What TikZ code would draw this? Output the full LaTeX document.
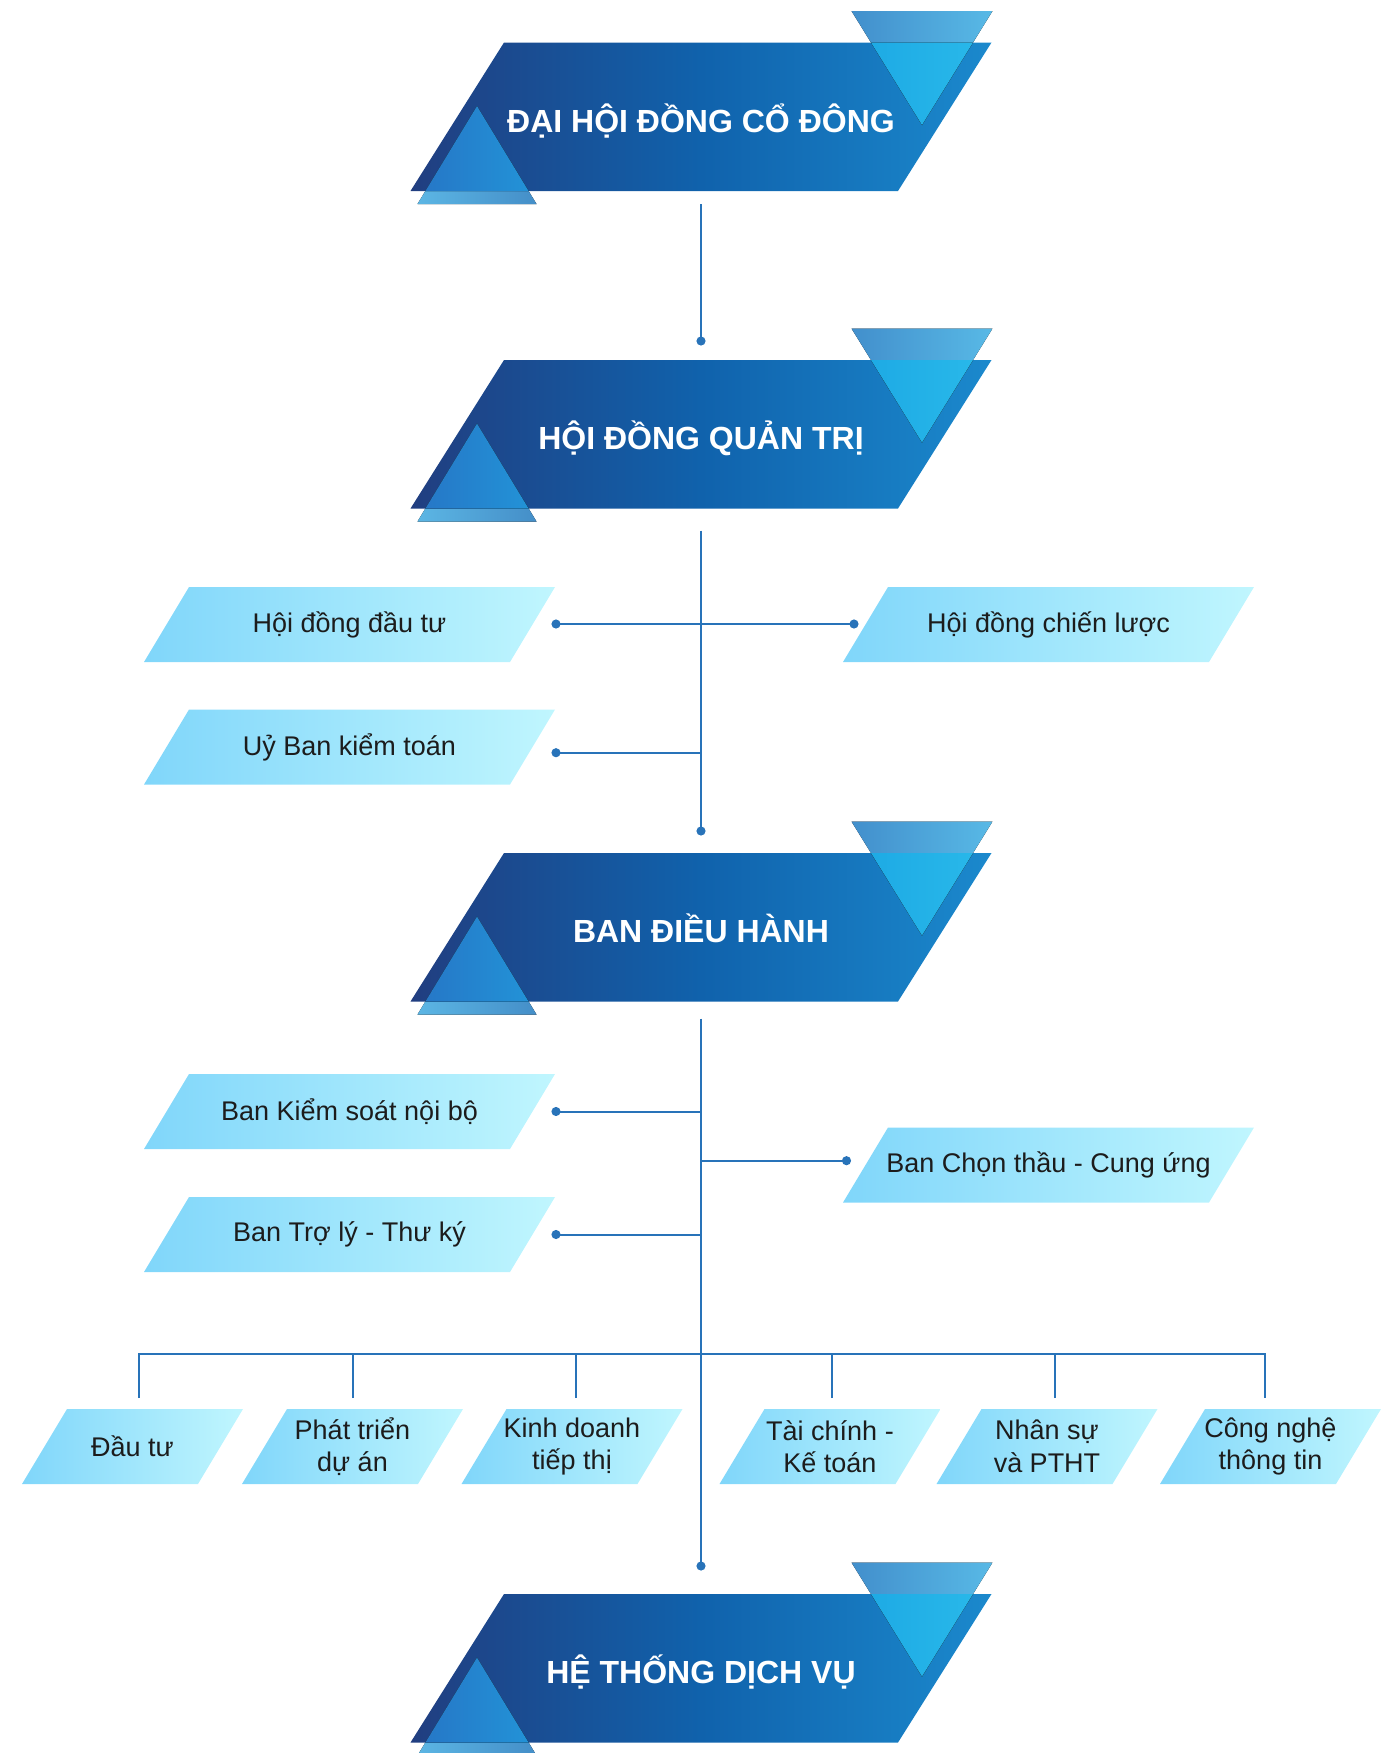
\documentclass[tikz,border=0pt]{standalone}
\usepackage{fontspec}
\setmainfont{Liberation Sans}
\usetikzlibrary{calc,positioning,backgrounds,arrows.meta}
\definecolor{bandL}{RGB}{33,62,128}
\definecolor{bandM}{RGB}{16,98,172}
\definecolor{bandR}{RGB}{27,137,205}
\definecolor{paleL}{RGB}{128,214,250}
\definecolor{paleR}{RGB}{192,246,254}
\definecolor{linkc}{RGB}{40,115,185}
\definecolor{triA}{RGB}{66,143,204}
\definecolor{triB}{RGB}{88,185,230}
\definecolor{cyanA}{RGB}{28,168,228}
\definecolor{cyanB}{RGB}{42,186,234}
\definecolor{lowA}{RGB}{38,118,198}
\definecolor{lowB}{RGB}{34,148,216}
\definecolor{stripA}{RGB}{92,182,228}
\definecolor{stripB}{RGB}{68,142,200}
\definecolor{txt}{RGB}{28,28,28}
\pgfdeclarehorizontalshading{darkband}{100bp}{color(0bp)=(bandL); color(25bp)=(bandL); color(50bp)=(bandM); color(75bp)=(bandR); color(100bp)=(bandR)}
\newcommand\slantbox[2]{($(#1.north west)+(#2,0)$) -- ($(#1.north east)+(#2,0)$) -- ($(#1.south east)+(-#2,0)$) -- ($(#1.south west)+(-#2,0)$) -- cycle}
\tikzset{
head/.style={
  rectangle, minimum width=243.75pt, minimum height=74.25pt,
  inner sep=0pt, outer sep=0pt,
  text height=17pt, text depth=1.3pt,
  text=white, font=\fontsize{16}{19}\selectfont\bfseries
},
unit/.style={
  rectangle, minimum width=183pt, minimum height=37.5pt,
  inner sep=0pt, outer sep=0pt,
  text=txt, font=\fontsize{13.5}{16.25}\selectfont, align=center
},
dept/.style={unit, minimum width=88pt},
pale/.style={left color=paleL, right color=paleR},
link/.style={draw=linkc, line width=1pt},
dotend/.style={-{Circle[length=4.5pt]}},
}

\begin{document}
\begin{tikzpicture}[x=0.5pt, y=-0.5pt]
            \useasboundingbox (0,0) rectangle (1400,1753);
                \node[head] (dhcd) at (701,116.75) {ĐẠI HỘI ĐỒNG CỔ ĐÔNG};
                \node[head] (hdqt) at (701,434.25) {HỘI ĐỒNG QUẢN TRỊ};
                \node[head] (bdh) at (701,927.25) {BAN ĐIỀU HÀNH};
                \node[head] (htdv) at (701,1668.25) {HỆ THỐNG DỊCH VỤ};
                \node[unit] (hddt) at (349.5,624.5) {Hội đồng đầu tư};
                \node[unit] (hdcl) at (1048.5,624.5) {Hội đồng chiến lược};
                \node[unit] (ubkt) at (349.5,747) {Uỷ Ban kiểm toán};
                \node[unit] (bksnb) at (349.5,1111.5) {Ban Kiểm soát nội bộ};
                \node[unit] (btl) at (349.5,1234.5) {Ban Trợ lý - Thư ký};
                \node[unit] (bctcu) at (1048.5,1165) {Ban Chọn thầu - Cung ứng};
                \node[dept] (dt) at (132.5,1446.5) {Đầu tư};
                \node[dept] (ptda) at (352.5,1446.5) {Phát triển\\dự án};
                \node[dept] (kdtt) at (572,1446.5) {Kinh doanh\\tiếp thị};
                \node[dept] (tckt) at (830,1446.5) {Tài chính -\\Kế toán};
                \node[dept] (nsptht) at (1047,1446.5) {Nhân sự\\và PTHT};
                \node[dept] (cntt) at (1270.5,1446.5) {Công nghệ\\thông tin};
            \begin{scope}[on background layer]
                \foreach \b in {hddt,hdcl,ubkt,bksnb,btl,bctcu,dt,ptda,kdtt,tckt,nsptht,cntt}
                    \path[pale] \slantbox{\b}{22.5};
                \foreach \b in {dhcd,hdqt,bdh,htdv}{
                    \coordinate (tr) at ($(\b.north east)+(46.75,0)$);
                    \coordinate (bl) at ($(\b.south west)+(-46.75,0)$);
                    \path[shade, shading=darkband] \slantbox{\b}{46.75};
                    \fill[left color=triA, right color=triB] ($(tr)+(-140,-31.5)$) -- ++(141,0) -- ($(tr)+(-69.5,82.5)$) -- cycle;
                    \fill[left color=stripA, right color=stripB] ($(bl)+(7,13)$) -- ++(119,0) -- ($(bl)+(66.5,-85)$) -- cycle;
                    \begin{scope}
                        \clip \slantbox{\b}{46.75};
                        \fill[left color=cyanA, right color=cyanB] ($(tr)+(-140,-31.5)$) -- ++(141,0) -- ($(tr)+(-69.5,82.5)$) -- cycle;
                        \fill[left color=lowA, right color=lowB] ($(bl)+(7,13)$) -- ++(119,0) -- ($(bl)+(66.5,-85)$) -- cycle;
                    \end{scope}
                }
            \end{scope}
                \coordinate (j1) at (701,345.5);
                \coordinate (j2) at (701,835.5);
                \coordinate (j3) at (701,1570.5);
                \coordinate (e1) at (551.5,624);
                \coordinate (e2) at (858.5,624);
                \coordinate (e3) at (551.5,752.7);
                \coordinate (e4) at (551.5,1111.5);
                \coordinate (e5) at (851,1160.7);
                \coordinate (e6) at (551.5,1234.5);
                \draw[link, dotend] ($(dhcd.south)+(0,13)$) -- (j1);
                \draw[link, dotend] ($(hdqt.south)+(0,22)$) -- (j2);
                \draw[link, dotend] ($(bdh.south)+(0,17)$) -- (j3);
                \foreach \e in {e1,e2,e3}
                    \draw[link, dotend] (j2 |- \e) -- (\e);
                \foreach \e in {e4,e5,e6}
                    \draw[link, dotend] (j3 |- \e) -- (\e);
                \draw[link] ($(dt.north)+(6.5,-11)$) |- ($(cntt.north)+(-5.5,-55)$) -- ($(cntt.north)+(-5.5,-11)$);
                \foreach \b/\dx in {ptda/0,kdtt/4,tckt/2,nsptht/7.5}
                    \draw[link] ($(\b.north)+(\dx,-11)$) -- ++(0,-44);
            \end{tikzpicture}
\end{document}
